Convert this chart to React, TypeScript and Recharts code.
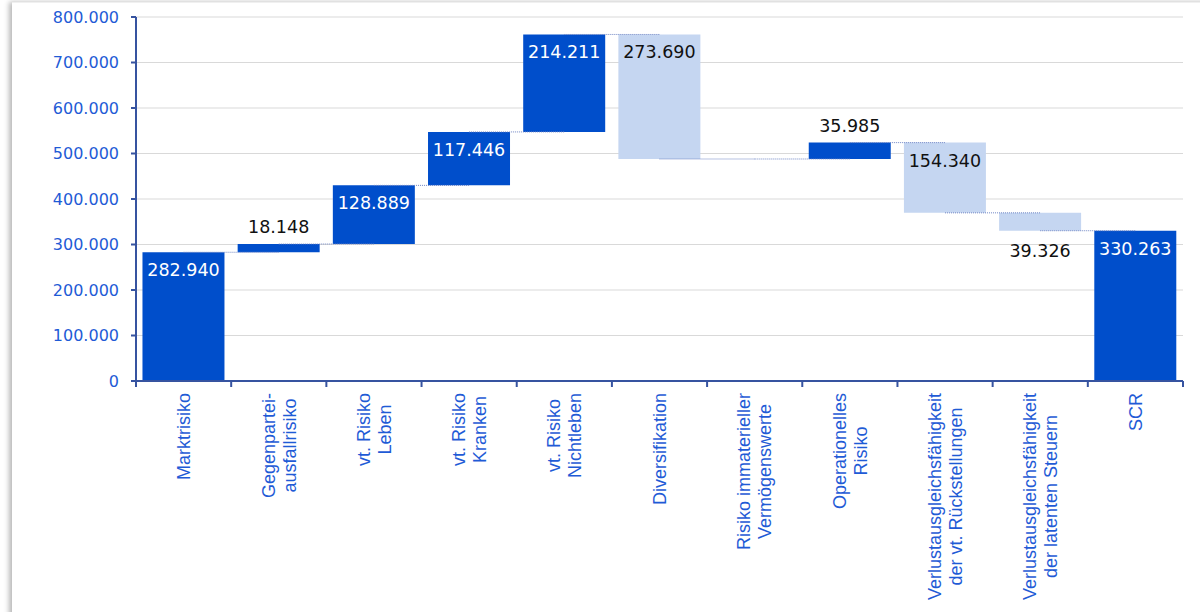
import React from "react";
import { BarChart, Bar, XAxis, YAxis, CartesianGrid, Cell, LabelList, ReferenceLine } from "recharts";

const categories: string[] = [
  "Marktrisiko",
  "Gegenpartei-\nausfallrisiko",
  "vt. Risiko\nLeben",
  "vt. Risiko\nKranken",
  "vt. Risiko\nNichtleben",
  "Diversifikation",
  "Risiko immaterieller\nVermögenswerte",
  "Operationelles\nRisiko",
  "Verlustausgleichsfähigkeit\nder vt. Rückstellungen",
  "Verlustausgleichsfähigkeit\nder latenten Steuern",
  "SCR",
];

const changes: number[] = [282940, 18148, 128889, 117446, 214211, -273690, 0, 35985, -154340, -39326, 330263];
const kinds: string[] = ["total", "up", "up", "up", "up", "down", "up", "up", "down", "down", "total"];

const yTicks: number[] = [0, 100000, 200000, 300000, 400000, 500000, 600000, 700000, 800000];

const DARK = "#004ecb";
const LIGHT = "#c5d6f1";
const AXIS = "#3653a0";
const TEXTBLUE = "#1f5bd6";

const fmt = (v: number) => {
  const s = Math.round(Math.abs(v)).toString();
  return s.replace(/\B(?=(\d{3})+(?!\d))/g, ".");
};

type Row = { name: string; range: [number, number]; kind: string; abs: number; end: number };

const data: Row[] = (() => {
  let running = 0;
  return categories.map((name, i) => {
    const v = changes[i];
    const k = kinds[i];
    let low: number, high: number;
    if (k === "total") {
      low = 0;
      high = v;
      running = v;
    } else {
      const next = running + v;
      low = Math.min(running, next);
      high = Math.max(running, next);
      running = next;
    }
    return { name, range: [low, high] as [number, number], kind: k, abs: Math.abs(v), end: running };
  });
})();

const connectors = data.slice(0, -1).map((d, i) => ({ from: d.name, to: data[i + 1].name, level: d.end }));

let ctx: CanvasRenderingContext2D | null = null;
const measure = (s: string, font: string) => {
  if (!ctx) ctx = document.createElement("canvas").getContext("2d");
  if (!ctx) return s.length * 9;
  ctx.font = font;
  return ctx.measureText(s).width;
};

const CAT_FONT = "Liberation Sans";
const CAT_SIZE = 18;

const CategoryTick = (props: any) => {
  const { x, y, payload, index } = props;
  const half = payload && payload.offset ? payload.offset : 47.6;
  const lines = String(payload.value).split("\n");
  const widths = lines.map((l) => measure(l, `${CAT_SIZE}px "${CAT_FONT}"`));
  const W = Math.max(...widths);
  const lh = 21;
  const top = y + 12;
  return (
    <g>
      <line x1={x - half} x2={x - half} y1={y} y2={y + 6} stroke={AXIS} strokeWidth={2} />
      {index === categories.length - 1 && (
        <line x1={x + half} x2={x + half} y1={y} y2={y + 6} stroke={AXIS} strokeWidth={2} />
      )}
      <g transform={`translate(${x},${top}) rotate(-90)`}>
        {lines.map((l, i) => (
          <text
            key={i}
            x={-W / 2}
            y={(i - (lines.length - 1) / 2) * lh}
            dy="0.35em"
            textAnchor="middle"
            fill={TEXTBLUE}
            fontFamily={CAT_FONT}
            fontSize={CAT_SIZE}
          >
            {l}
          </text>
        ))}
      </g>
    </g>
  );
};

const renderLabel = (props: any) => {
  const vb = props.viewBox || {};
  const x = props.x ?? vb.x;
  const y = props.y ?? vb.y;
  const width = props.width ?? vb.width;
  const height = props.height ?? vb.height;
  const d = data.find((r) => r.name === props.value);
  if (!d || d.abs === 0) return null;
  const h = Math.abs(height);
  const topY = Math.min(y, y + height);
  let ty: number;
  let fill = "#111111";
  if (h > 30) {
    ty = topY + 18;
    fill = d.kind === "down" ? "#111111" : "#ffffff";
  } else if (d.kind === "down") {
    ty = topY + h + 20;
  } else {
    ty = topY - 17;
  }
  return (
    <text
      x={x + width / 2}
      y={ty}
      textAnchor="middle"
      dominantBaseline="central"
      fill={fill}
      fontFamily="DejaVu Sans"
      fontSize={17.5}
    >
      {fmt(d.abs)}
    </text>
  );
};

export default function App() {
  return (
    <div style={{ position: "fixed", left: 0, top: 0, width: 1200, height: 612, background: "#ffffff", overflow: "hidden" }}>
      <div
        style={{
          position: "absolute",
          left: 12,
          top: 2,
          width: 1200,
          height: 620,
          background: "#ffffff",
          boxShadow: "-3px 0 5px rgba(0,0,0,0.28)",
          borderTop: "1px solid #f0f0f0",
        }}
      />
      <div style={{ position: "absolute", left: 0, top: 0 }}>
        <BarChart
          width={1200}
          height={612}
          data={data}
          margin={{ top: 17, right: 17, left: 0, bottom: 0 }}
          barCategoryGap="6.8%"
        >
          <CartesianGrid vertical={false} stroke="#d9d9d9" strokeWidth={1} />
          <XAxis
            dataKey="name"
            interval={0}
            height={231}
            tickSize={0}
            tickMargin={0}
            tickLine={false}
            axisLine={{ stroke: AXIS, strokeWidth: 2 }}
            tick={<CategoryTick />}
          />
          <YAxis
            width={136}
            domain={[0, 800000]}
            ticks={yTicks}
            interval={0}
            tickFormatter={fmt}
            tickSize={5}
            tickMargin={12}
            axisLine={{ stroke: AXIS, strokeWidth: 2 }}
            tickLine={{ stroke: AXIS, strokeWidth: 2 }}
            tick={{ fill: TEXTBLUE, fontSize: 16, fontFamily: "DejaVu Sans" }}
          />
          <ReferenceLine x="SCR" position="end" stroke="#d9d9d9" strokeWidth={1} />
          <Bar dataKey="range" isAnimationActive={false}>
            {data.map((d, i) => (
              <Cell key={i} fill={d.kind === "down" ? LIGHT : DARK} />
            ))}
            <LabelList dataKey="name" content={renderLabel} />
          </Bar>
          {connectors.map((c, i) => (
            <ReferenceLine
              key={i}
              segment={[
                { x: c.from, y: c.level },
                { x: c.to, y: c.level },
              ]}
              stroke="#7086c4"
              strokeWidth={1}
              strokeDasharray="1 1"
            />
          ))}
        </BarChart>
      </div>
    </div>
  );
}
